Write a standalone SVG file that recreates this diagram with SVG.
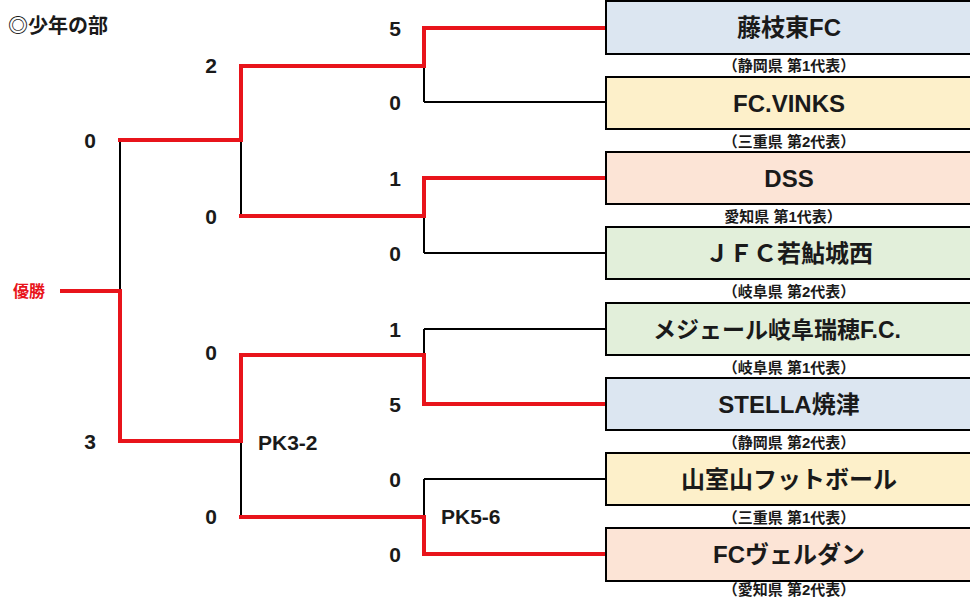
<svg xmlns="http://www.w3.org/2000/svg" width="970" height="597" viewBox="0 0 970 597">
<style>
  text { font-family: "Liberation Sans", "Noto Sans CJK JP", sans-serif; font-weight: bold; fill: #1a1a1a; }
  .score { font-size: 21px; text-anchor: middle; }
  .pk { font-size: 21px; }
  .name { font-size: 24px; text-anchor: middle; }
  .sub { font-size: 15px; text-anchor: middle; }
  .title { font-size: 20px; }
  .champ { font-size: 16px; fill: #e8141b; }
  .box { stroke: #000; stroke-width: 2; }
  .blk { fill: none; stroke: #000; stroke-width: 2; }
  .red { fill: none; stroke: #e8141b; stroke-width: 4; stroke-linejoin: miter; stroke-linecap: square; }
  .blue { fill: #dce6f1; } .yel { fill: #fdf0ca; } .pink { fill: #fce4d6; } .grn { fill: #e2efda; }
</style>
<rect width="970" height="597" fill="#fff"/>
<text class="title" x="8" y="33">◎少年の部</text>
<text class="champ" x="13" y="297">優勝</text>

<g id="connectors">
  <g class="blk">
    <path d="M424,28H606M424,102H606M424,178H606M424,253H606M424,329H606M424,404H606M424,479H606M424,554H606"/>
    <path d="M424,28V102M424,178V253M424,329V404M424,479V554"/>
    <path d="M241,66H424M241,216H424M241,355H424M241,517H424"/>
    <path d="M241,66V216M241,355V517"/>
    <path d="M120,140H241M120,441H241M120,140V441M60,291H120"/>
  </g>
  <g class="red">
    <path d="M604,28H424V66H241V140H120"/>
    <path d="M604,178H424V216H241"/>
    <path d="M62,291H120V441H241V355H424V404H604"/>
    <path d="M604,554H424V517H241"/>
  </g>
</g>

<g id="scores">
  <text class="score" x="395" y="35.5">5</text>
  <text class="score" x="395" y="109.5">0</text>
  <text class="score" x="395" y="185.5">1</text>
  <text class="score" x="395" y="260.5">0</text>
  <text class="score" x="395" y="336.5">1</text>
  <text class="score" x="395" y="411.5">5</text>
  <text class="score" x="395" y="486.5">0</text>
  <text class="score" x="395" y="561.5">0</text>
  <text class="score" x="211" y="72.5">2</text>
  <text class="score" x="211" y="223.5">0</text>
  <text class="score" x="211" y="359.5">0</text>
  <text class="score" x="211" y="523.5">0</text>
  <text class="score" x="90" y="147.5">0</text>
  <text class="score" x="90" y="448.5">3</text>
  <text class="pk" x="258" y="449.5">PK3-2</text>
  <text class="pk" x="441" y="523.5">PK5-6</text>
</g>

<g id="team1"><rect class="box blue" x="606" y="1" width="370" height="53"/><text class="name" x="789" y="36">藤枝東FC</text><text class="sub" x="789" y="71">（静岡県 第1代表）</text></g>
<g id="team2"><rect class="box yel" x="606" y="77" width="370" height="52"/><text class="name" x="789" y="111.5">FC.VINKS</text><text class="sub" x="789" y="146.5">（三重県 第2代表）</text></g>
<g id="team3"><rect class="box pink" x="606" y="152" width="370" height="52"/><text class="name" x="789" y="186.5">DSS</text><text class="sub" x="783" y="221.5">愛知県 第1代表）</text></g>
<g id="team4"><rect class="box grn" x="606" y="227" width="370" height="52"/><text class="name" x="789" y="261.5">ＪＦＣ若鮎城西</text><text class="sub" x="789" y="296.5">（岐阜県 第2代表）</text></g>
<g id="team5"><rect class="box grn" x="606" y="303" width="370" height="52"/><text class="name" x="777" y="337.5" style="font-size:23px">メジェール岐阜瑞穂F.C.</text><text class="sub" x="789" y="372.5">（岐阜県 第1代表）</text></g>
<g id="team6"><rect class="box blue" x="606" y="378" width="370" height="52"/><text class="name" x="789" y="412.5">STELLA焼津</text><text class="sub" x="789" y="447.5">（静岡県 第2代表）</text></g>
<g id="team7"><rect class="box yel" x="606" y="453" width="370" height="52"/><text class="name" x="789" y="487.5">山室山フットボール</text><text class="sub" x="789" y="522.5">（三重県 第1代表）</text></g>
<g id="team8"><rect class="box pink" x="606" y="528" width="370" height="53"/><text class="name" x="789" y="562.5">FCヴェルダン</text><text class="sub" x="789" y="595">（愛知県 第2代表）</text></g>
</svg>
